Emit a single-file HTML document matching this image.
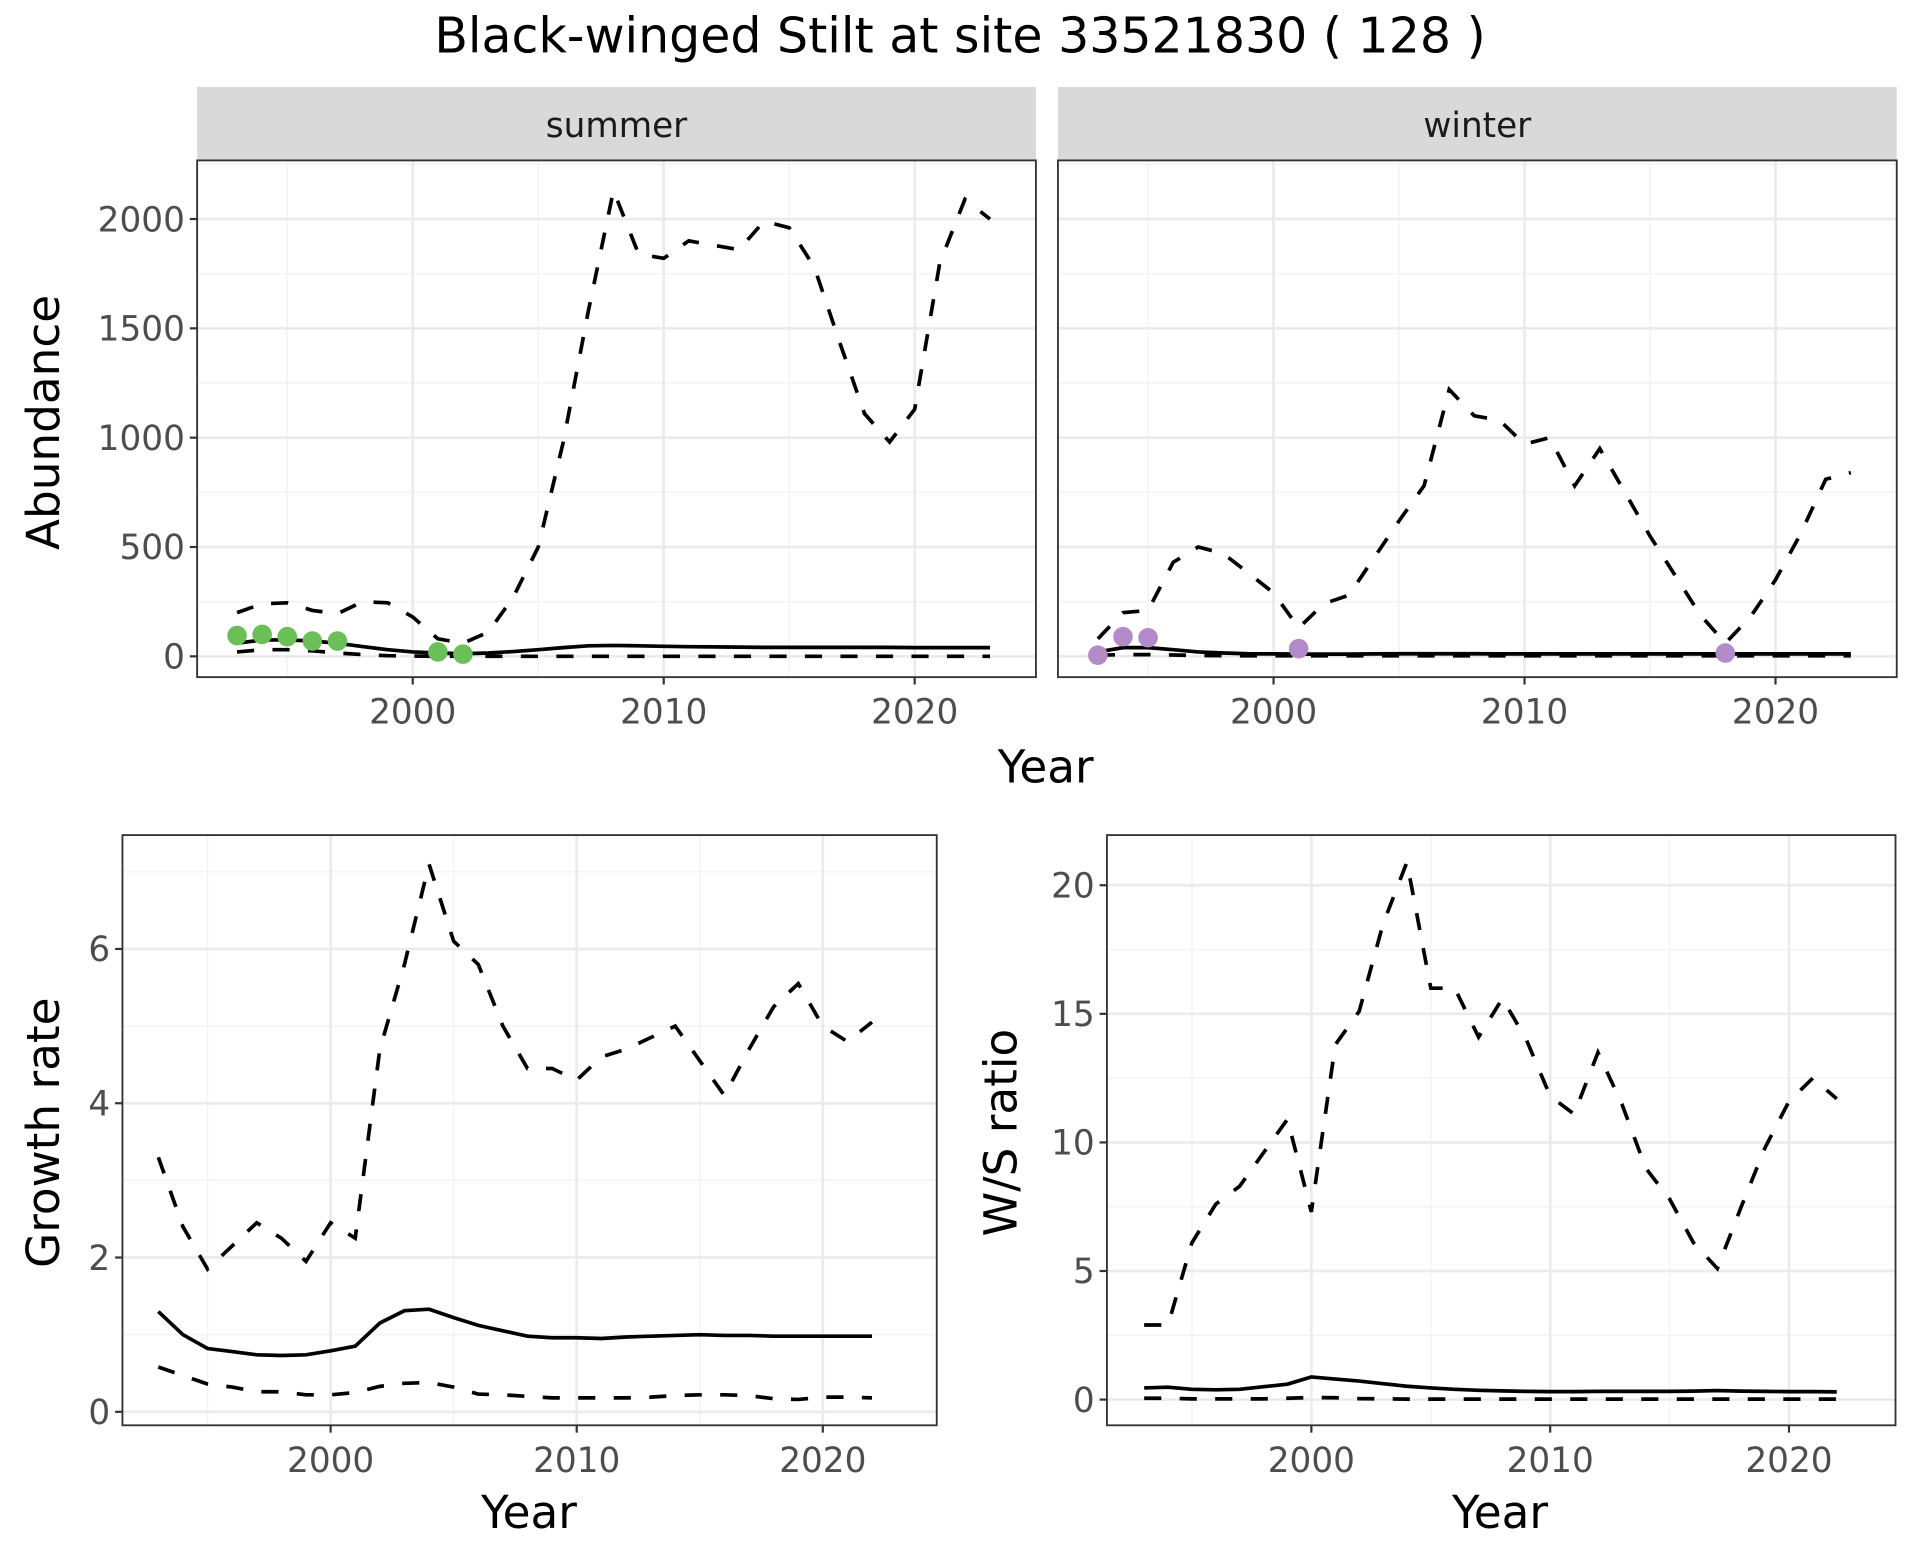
<!DOCTYPE html>
<html><head><meta charset="utf-8"><style>
html,body{margin:0;padding:0;background:#fff;}
svg{display:block;font-family:"DejaVu Sans","Liberation Sans",sans-serif;}
</style></head><body>
<svg id="chart" width="1920" height="1560" viewBox="0 0 1568 1274" xmlns="http://www.w3.org/2000/svg">
<rect width="1568" height="1274" fill="#fff"/>
<text x="784" y="43" font-size="40" text-anchor="middle" fill="#000">Black-winged Stilt at site 33521830 ( 128 )</text>
</svg>
<script>
// ---- data ----
const absYears = [1993,1994,1995,1996,1997,1998,1999,2000,2001,2002,2003,2004,2005,2006,2007,2008,2009,2010,2011,2012,2013,2014,2015,2016,2017,2018,2019,2020,2021,2022,2023];
const summerUpper = [200,240,245,210,195,250,245,180,80,60,110,270,500,980,1580,2130,1840,1820,1900,1880,1860,1990,1960,1780,1440,1110,980,1130,1800,2090,2000];
const summerMid = [60,75,75,70,60,45,30,20,15,12,15,22,30,40,48,50,48,46,44,43,42,41,41,41,41,41,41,40,40,40,40];
const summerLow = [20,30,30,25,15,8,3,1,0,0,0,0,0,0,0,0,0,0,0,0,0,0,0,0,0,0,0,0,0,0,0];
const summerObsYears = [1993,1994,1995,1996,1997,2001,2002];
const summerObs = [95,100,90,70,70,20,10];
const winterUpper = [80,200,210,430,500,470,380,290,130,240,280,450,620,780,1220,1100,1080,970,1000,780,950,750,550,370,190,60,180,350,560,810,840];
const winterMid = [20,40,40,30,20,15,12,11,10,10,10,11,12,12,12,12,11,11,11,11,11,11,11,11,11,11,11,11,11,11,11];
const winterLow = [5,8,8,6,4,3,2,2,2,2,2,2,2,2,2,2,2,2,2,2,2,2,2,2,2,2,2,2,2,2,2];
const winterObsYears = [1993,1994,1995,2001,2018];
const winterObs = [5,90,85,35,15];
const rateYears = [1993,1994,1995,1996,1997,1998,1999,2000,2001,2002,2003,2004,2005,2006,2007,2008,2009,2010,2011,2012,2013,2014,2015,2016,2017,2018,2019,2020,2021,2022];
const growthUpper = [3.3,2.4,1.85,2.15,2.45,2.25,1.95,2.45,2.25,4.7,5.8,7.1,6.1,5.8,5.0,4.45,4.45,4.3,4.6,4.7,4.85,5.0,4.55,4.1,4.7,5.25,5.55,5.0,4.8,5.05];
const growthMid = [1.3,1.0,0.82,0.78,0.74,0.73,0.74,0.79,0.85,1.15,1.31,1.33,1.22,1.12,1.05,0.98,0.96,0.96,0.95,0.97,0.98,0.99,1.0,0.99,0.99,0.98,0.98,0.98,0.98,0.98];
const growthLow = [0.58,0.47,0.36,0.32,0.26,0.26,0.22,0.22,0.25,0.33,0.37,0.38,0.32,0.23,0.22,0.2,0.18,0.18,0.18,0.18,0.19,0.21,0.22,0.22,0.21,0.17,0.16,0.19,0.19,0.18];
const wsUpper = [2.9,2.9,6.1,7.6,8.3,9.6,10.9,7.3,13.8,15.1,18.5,20.9,16.0,16.0,14.1,15.6,14.0,11.8,11.1,13.5,11.5,9.0,7.8,6.1,5.1,7.5,9.8,11.6,12.5,11.7];
const wsMid = [0.45,0.48,0.4,0.38,0.4,0.5,0.6,0.88,0.8,0.72,0.62,0.52,0.45,0.4,0.36,0.34,0.32,0.31,0.31,0.32,0.32,0.32,0.32,0.33,0.35,0.33,0.32,0.31,0.31,0.3];
const wsLow = [0.05,0.05,0.03,0.03,0.03,0.03,0.05,0.08,0.07,0.04,0.03,0.02,0.02,0.02,0.02,0.02,0.02,0.02,0.02,0.02,0.02,0.02,0.02,0.02,0.02,0.02,0.02,0.02,0.02,0.02];
const xTicks = [2000,2010,2020];
const absTicks = [0,500,1000,1500,2000];
const growthTicks = [0,2,4,6];
const wsTicks = [0,5,10,15,20];

const NS = "http://www.w3.org/2000/svg";
const svg = document.getElementById('chart');
function el(tag, attrs, parent){
  const e = document.createElementNS(NS, tag);
  for (const k in attrs) e.setAttribute(k, attrs[k]);
  (parent||svg).appendChild(e);
  return e;
}
function panel(name, box, xDom, yDom, yTicks, yMinor, xMinor, showY){
  const g = el('g', {});
  
  
  const sx = v => box.x0 + (v - xDom[0]) / (xDom[1]-xDom[0]) * (box.x1-box.x0);
  const sy = v => box.y1 - (v - yDom[0]) / (yDom[1]-yDom[0]) * (box.y1-box.y0);
  el('rect', {x:box.x0,y:box.y0,width:box.x1-box.x0,height:box.y1-box.y0,fill:'#fff'}, g);
  yMinor.forEach(v => el('line',{x1:box.x0,x2:box.x1,y1:sy(v),y2:sy(v),stroke:'#f3f3f3','stroke-width':1.2},g));
  xMinor.forEach(v => el('line',{y1:box.y0,y2:box.y1,x1:sx(v),x2:sx(v),stroke:'#f3f3f3','stroke-width':1.2},g));
  yTicks.forEach(v => el('line',{x1:box.x0,x2:box.x1,y1:sy(v),y2:sy(v),stroke:'#ebebeb','stroke-width':2.2},g));
  xTicks.forEach(v => el('line',{y1:box.y0,y2:box.y1,x1:sx(v),x2:sx(v),stroke:'#ebebeb','stroke-width':2.2},g));
  el('rect', {x:box.x0,y:box.y0,width:box.x1-box.x0,height:box.y1-box.y0,fill:'none',stroke:'#333','stroke-width':1.5}, g);
  xTicks.forEach(v => {
    el('line',{x1:sx(v),x2:sx(v),y1:box.y1,y2:box.y1+6,stroke:'#333','stroke-width':1.8},g);
    const t = el('text',{x:sx(v),y:box.y1+38,'font-size':28,'text-anchor':'middle',fill:'#4d4d4d'},g);
    t.textContent = v;
    
    
  });
  if (showY) yTicks.forEach(v => {
    el('line',{x1:box.x0-6,x2:box.x0,y1:sy(v),y2:sy(v),stroke:'#333','stroke-width':1.8},g);
    const t = el('text',{x:box.x0-10,y:sy(v)+10,'font-size':28,'text-anchor':'end',fill:'#4d4d4d'},g);
    t.textContent = v;
    
    
  });
  function line(xs, ys, dashed, nm){
    const d = xs.map((x,i)=>(i?'L':'M')+sx(x).toFixed(1)+','+sy(ys[i]).toFixed(1)).join('');
    const p = el('path',{d:d,fill:'none',stroke:'#000','stroke-width':3,'stroke-dasharray':dashed?'14,15':'none'},g);
    
    
  }
  function points(xs, ys, col, nm){
    xs.forEach((x,i)=>{
      const c = el('circle',{cx:sx(x),cy:sy(ys[i]),r:8,fill:col},g);
      
      
    });
  }
  return {line, points};
}
function strip(name, x0, x1, label){
  const g = el('g',{});
  
  
  el('rect',{x:x0,y:71,width:x1-x0,height:60,fill:'#d9d9d9'},g);
  const t = el('text',{x:(x0+x1)/2,y:112,'font-size':28,'text-anchor':'middle',fill:'#1a1a1a'},g);
  t.textContent = label;
}
function label(txt, x, y, rot, nm){
  const t = el('text',{x:x,y:y,'font-size':37,'text-anchor':'middle',fill:'#000',transform:rot?`rotate(-90 ${x} ${y})`:''});
  t.textContent = txt;
  
  
}
const absMinor = [250,750,1250,1750,2250];
// summer
strip('strip-summer',161,846,'summer');
const ps = panel('panel-summer',{x0:161,x1:846,y0:131,y1:553},[1991.41,2024.83],[-95.2,2268],absTicks,absMinor,[1995,2005,2015],true);
ps.line(absYears,summerUpper,true,'summer-upper');
ps.line(absYears,summerLow,true,'summer-lower');
ps.line(absYears,summerMid,false,'summer-mean');
ps.points(summerObsYears,summerObs,'#6abf59','summer-obs');
// winter
strip('strip-winter',864,1549,'winter');
const pw = panel('panel-winter',{x0:864,x1:1549,y0:131,y1:553},[1991.41,2024.83],[-95.2,2268],absTicks,absMinor,[1995,2005,2015],false);
pw.line(absYears,winterUpper,true,'winter-upper');
pw.line(absYears,winterLow,true,'winter-lower');
pw.line(absYears,winterMid,false,'winter-mean');
pw.points(winterObsYears,winterObs,'#b28bc8','winter-obs');
label('Year',854,639,false,'x-axis-title-top');
label('Abundance',48,345,true,'y-axis-title-abundance');
// growth
const pg = panel('panel-growth',{x0:100,x1:765,y0:682,y1:1164},[1991.54,2024.63],[-0.175,7.476],growthTicks,[1,3,5,7],[1995,2005,2015],true);
pg.line(rateYears,growthUpper,true,'growth-upper');
pg.line(rateYears,growthLow,true,'growth-lower');
pg.line(rateYears,growthMid,false,'growth-mean');
label('Year',432,1248,false,'x-axis-title-growth');
label('Growth rate',48,925,true,'y-axis-title-growth');
// W/S
const pr = panel('panel-ws-ratio',{x0:904,x1:1548,y0:682,y1:1164},[1991.44,2024.46],[-1.0,21.95],wsTicks,[2.5,7.5,12.5,17.5],[1995,2005,2015],true);
pr.line(rateYears,wsUpper,true,'ws-upper');
pr.line(rateYears,wsLow,true,'ws-lower');
pr.line(rateYears,wsMid,false,'ws-mean');
label('Year',1225,1248,false,'x-axis-title-ws');
label('W/S ratio',830,925,true,'y-axis-title-ws');
</script>
</body></html>
